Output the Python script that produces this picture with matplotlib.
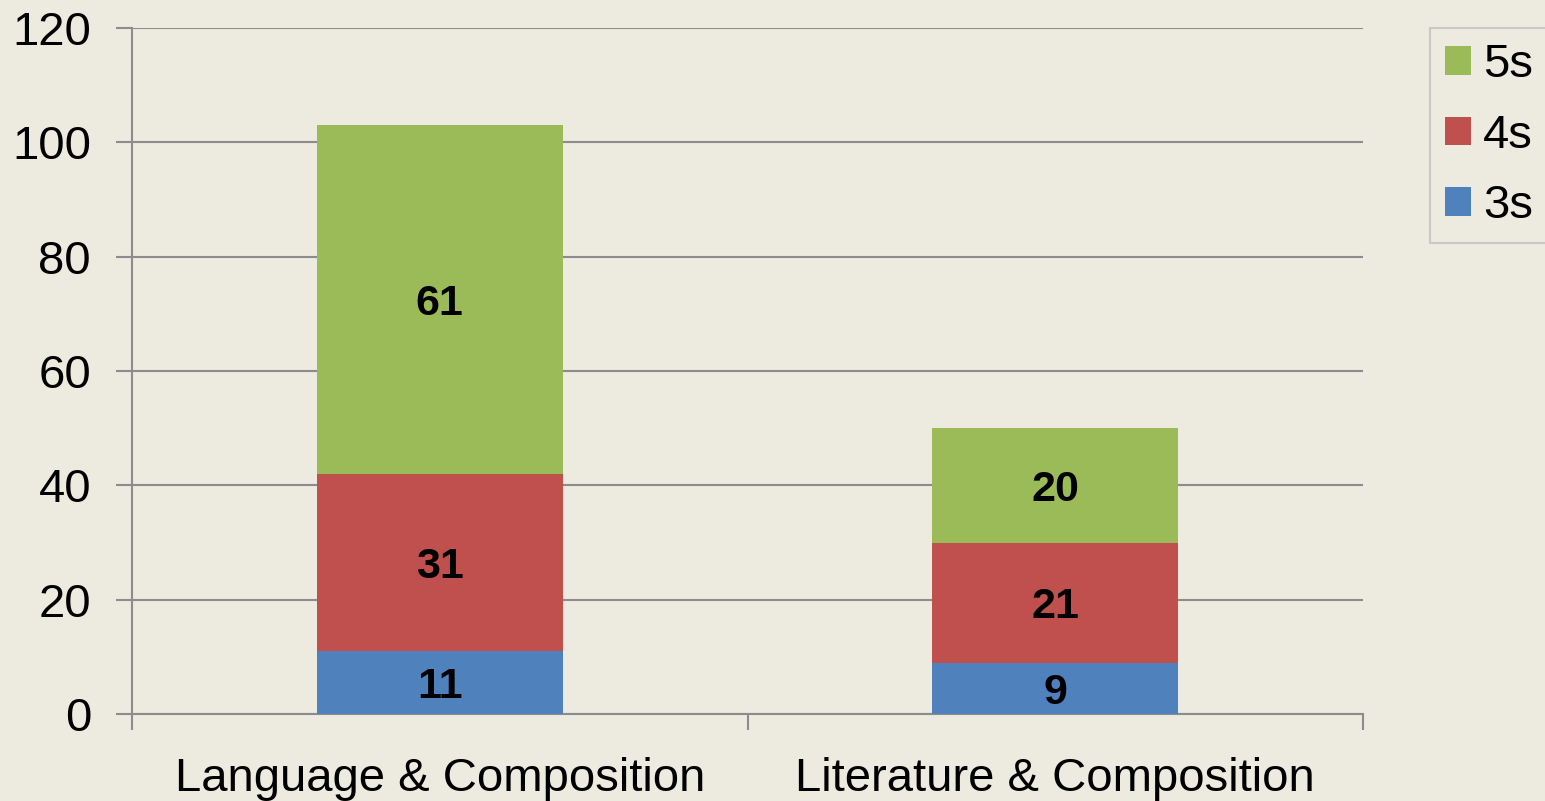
import numpy as np
import matplotlib
matplotlib.use('Agg')
import matplotlib.pyplot as plt
from matplotlib.patches import Patch

plt.rcParams['font.family'] = ['Liberation Sans', 'DejaVu Sans']

categories = ['Language & Composition', 'Literature & Composition']
series = ['3s', '4s', '5s']
values = {
    '3s': [11, 9],
    '4s': [31, 21],
    '5s': [61, 20],
}
colors = {'3s': '#4F81BD', '4s': '#C0504D', '5s': '#9BBB59'}
yticks = [0, 20, 40, 60, 80, 100, 120]

bg = '#EDEAE0'
grid_c = '#8C8C8C'

fig = plt.figure(figsize=(15.45, 8.01), dpi=100, facecolor=bg)
ax = fig.add_axes([132 / 1545, 1 - 714 / 801, (1363 - 132) / 1545, (714 - 28) / 801])
ax.set_facecolor(bg)

x = np.arange(len(categories))
bottom = np.zeros(len(categories))
for s in series:
    v = np.array(values[s], dtype=float)
    ax.bar(x, v, 0.4, bottom=bottom, color=colors[s], zorder=3)
    for xi, b, vi in zip(x, bottom, v):
        ax.text(xi, b + vi / 2, str(int(vi)), ha='center', va='center_baseline',
                fontsize=31, fontweight='bold', color='black', zorder=4)
    bottom += v

ax.set_xlim(-0.5, len(categories) - 0.5)
ax.set_ylim(0, 120)
ax.set_yticks(yticks)
ax.set_yticklabels([str(t) for t in yticks], fontsize=34)
ax.yaxis.grid(True, color=grid_c, linewidth=1.5, zorder=0)
ax.tick_params(axis='y', length=11.5, width=1.5, color=grid_c, pad=18)

# category labels centered, ticks at category boundaries
ax.set_xticks(np.arange(len(categories) + 1) - 0.5)
ax.set_xticklabels([])
ax.tick_params(axis='x', length=11.5, width=1.5, color=grid_c)
for xi, c in zip(x, categories):
    ax.text(xi, -11.3, c, ha='center', va='center', fontsize=34)

for side in ['top', 'right']:
    ax.spines[side].set_visible(False)
for side in ['left', 'bottom']:
    ax.spines[side].set_color(grid_c)
    ax.spines[side].set_linewidth(1.5)

handles = [Patch(facecolor=colors[s], label=s) for s in reversed(series)]
leg = fig.legend(handles=handles, loc='upper left', bbox_to_anchor=(1430 / 1545, 1 - 28 / 801),
                 fontsize=34, frameon=True, fancybox=False, handlelength=0.55, handleheight=0.55,
                 handletextpad=0.25, labelspacing=0.56, borderpad=0.32, borderaxespad=0)
leg.get_frame().set_facecolor(bg)
leg.get_frame().set_edgecolor('#C0C0C0')
leg.get_frame().set_linewidth(1.5)

fig.savefig('out.png', dpi=100, facecolor=bg)
